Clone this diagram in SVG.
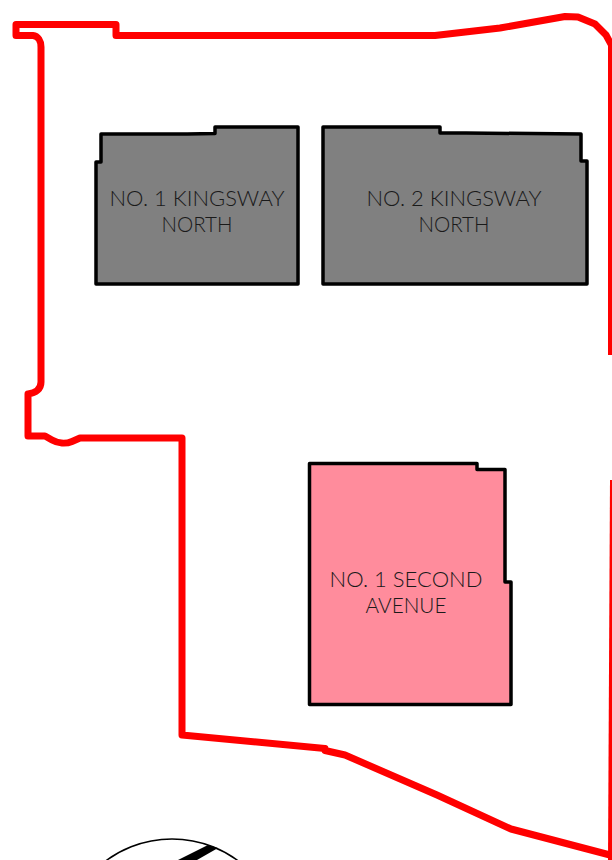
<svg xmlns="http://www.w3.org/2000/svg" width="612" height="860" viewBox="0 0 612 860">
<style>
.b{stroke:#000;stroke-width:3.500;stroke-linejoin:round}
.g{fill:#808080}
.p{fill:#ff8c9c}
.t{font-family:Lato,"Noto Sans",sans-serif;font-weight:300;font-size:21px;fill:#1a1a1a;text-anchor:middle}
.r{fill:none;stroke:#f00;stroke-width:7;stroke-linejoin:round;stroke-linecap:butt}
</style>
<rect width="612" height="860" fill="#fff"/>
<g id="site-boundary">
<path class="r" d="M611.500 355V45L606 35L595 24L578 17L565 16.500L500 28L435 35.500H116V24.500H16V35.500H33C38 36 41 41 41 47V382C41 389 36 393 28 394V436H45L52 440C58 443.500 66 444 72 441.500L80 438H182V735L325 748.500V750.500L345 755L437 795L511 829L610 855"/>
<path fill="#f00" d="M610 480H612V860H608Z"/>
</g>
<g id="no-1-kingsway-north">
<path class="b g" d="M96 284V162H101V134H187L215 133.500V127H298V284Z"/>
<text class="t" x="197" y="206" textLength="175" lengthAdjust="spacingAndGlyphs">NO. 1 KINGSWAY</text>
<text class="t" x="197" y="232" textLength="71" lengthAdjust="spacingAndGlyphs">NORTH</text>
</g>
<g id="no-2-kingsway-north">
<path class="b g" d="M323 284V127H440V133H466L581 134V161H587V284Z"/>
<text class="t" x="454" y="206" textLength="175" lengthAdjust="spacingAndGlyphs">NO. 2 KINGSWAY</text>
<text class="t" x="454" y="232" textLength="71" lengthAdjust="spacingAndGlyphs">NORTH</text>
</g>
<g id="no-1-second-avenue">
<path class="b p" d="M309.500 704.500V463.500H477V469.500H505V582H511V704.500Z"/>
<text class="t" x="406" y="587" textLength="153" lengthAdjust="spacingAndGlyphs">NO. 1 SECOND</text>
<text class="t" x="406" y="613" textLength="81" lengthAdjust="spacingAndGlyphs">AVENUE</text>
</g>
<g id="north-symbol">
<circle cx="172" cy="950" r="111" fill="none" stroke="#000" stroke-width="1.500"/>
<path d="M178 860L208 845L218 848L197 860Z" fill="#000"/>
</g>
</svg>
